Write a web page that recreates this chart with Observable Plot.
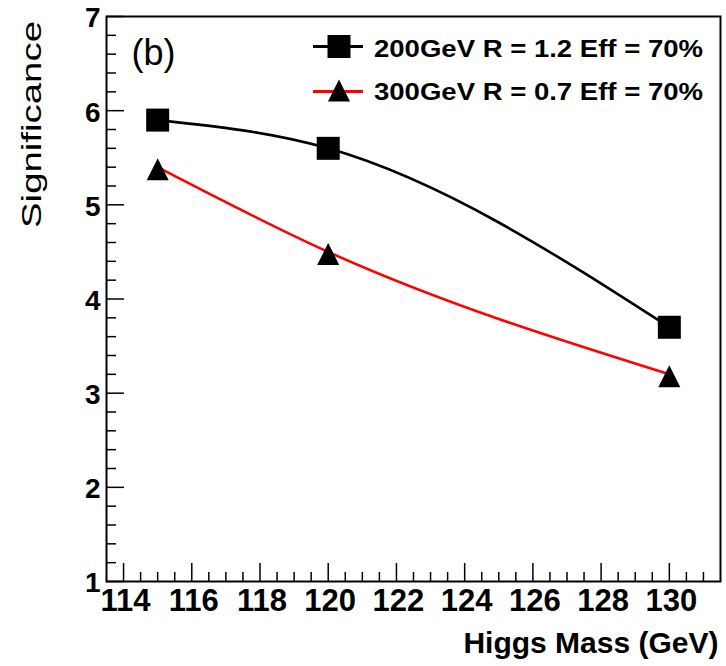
<!DOCTYPE html>
<html>
<head>
<meta charset="utf-8">
<script src="https://cdn.jsdelivr.net/npm/d3@7"></script>
<script src="https://cdn.jsdelivr.net/npm/@observablehq/plot@0.6"></script>
<style>
  html, body { margin: 0; padding: 0; background: #fff; }
  #chart { position: relative; width: 726px; height: 666px; overflow: hidden; }
  #legend { position: absolute; left: 0; top: 0; pointer-events: none; }
</style>
</head>
<body>
<div id="chart"></div>
<script>
// Significance vs Higgs mass for two jet configurations
const massGeV = [115, 120, 130];
const sig200 = [5.9, 5.6, 3.7];
const sig300 = [5.4, 4.5, 3.2];
const seriesNames = ["200GeV R = 1.2 Eff = 70%", "300GeV R = 0.7 Eff = 70%"];
const seriesColors = ["#000000", "#ff0000"];
const xTickLabels = [114, 116, 118, 120, 122, 124, 126, 128, 130];
const yTickLabels = [1, 2, 3, 4, 5, 6, 7];
const xDomain = [113.5, 131.5];
const yDomain = [1, 7];
const panelTag = "(b)";
const xTitle = "Higgs Mass (GeV)";
const yTitle = "Significance";

const W = 726, H = 666;
const M = {top: 16, right: 6, bottom: 85, left: 106};
const frameW = W - M.left - M.right;
const frameH = H - M.top - M.bottom;
const FONT = '"Liberation Sans", Arial, Helvetica, sans-serif';

const rows = seriesNames.flatMap((name, i) =>
  massGeV.map((m, j) => ({series: name, mass: m, sig: [sig200, sig300][i][j]}))
);

// minor ticks: 0.5 GeV on x, 0.2 on y
const xMinor = d3.range(114, 131.5, 0.5).filter(v => v % 2 !== 0);
const yMinor = d3.range(1, 7.0001, 0.2).map(v => +v.toFixed(1)).filter(v => v % 1 !== 0);

// ROOT-style markers: square and isoceles triangle, half-width = r
const squareSym = {draw(ctx, size) {
  const h = Math.sqrt(size / Math.PI);
  ctx.rect(-h, -h, 2 * h, 2 * h);
}};
const triangleSym = {draw(ctx, size) {
  const h = Math.sqrt(size / Math.PI);
  ctx.moveTo(0, -h); ctx.lineTo(h, h); ctx.lineTo(-h, h); ctx.closePath();
}};

const plot = Plot.plot({
  width: W, height: H,
  marginTop: M.top, marginRight: M.right, marginBottom: M.bottom, marginLeft: M.left,
  x: {domain: xDomain, axis: null},
  y: {domain: yDomain, axis: null},
  color: {domain: seriesNames, range: seriesColors},
  style: {fontFamily: FONT, background: "#fff", overflow: "visible"},
  marks: [
    // inward ticks on the bottom and left edges
    Plot.ruleX(xMinor, {x: d => d, insetTop: frameH - 9, stroke: "#000", strokeWidth: 1.5}),
    Plot.ruleX(xTickLabels, {x: d => d, insetTop: frameH - 18, stroke: "#000", strokeWidth: 1.5}),
    Plot.ruleY(yMinor, {y: d => d, insetRight: frameW - 10, stroke: "#000", strokeWidth: 1.5}),
    Plot.ruleY(yTickLabels, {y: d => d, insetRight: frameW - 18, stroke: "#000", strokeWidth: 1.5}),
    Plot.frame({stroke: "#000", strokeWidth: 2}),
    Plot.line(rows, {x: "mass", y: "sig", z: "series", stroke: "series", curve: "monotone-x", strokeWidth: 2.6}),
    Plot.dot(rows.filter(d => d.series === seriesNames[0]), {x: "mass", y: "sig", symbol: squareSym, r: 11.5, fill: "#000", stroke: "none"}),
    Plot.dot(rows.filter(d => d.series === seriesNames[1]), {x: "mass", y: "sig", symbol: triangleSym, r: 11, dy: 2, fill: "#000", stroke: "none"}),
    // tick labels
    Plot.text(xTickLabels, {x: d => d, frameAnchor: "bottom", dx: 2, dy: 29, lineAnchor: "bottom", fontSize: 31, fontWeight: "bold", fill: "#000", className: "xticklabels"}),
    Plot.text(yTickLabels, {y: d => d, frameAnchor: "left", dx: -6, dy: 2, textAnchor: "end", lineAnchor: "middle", fontSize: 28, fontWeight: "bold", fill: "#000"}),
    // titles
    Plot.text([xTitle], {frameAnchor: "bottom-right", dx: -2, dy: 71, textAnchor: "end", lineAnchor: "bottom", fontSize: 30, fontWeight: "bold", fill: "#000"}),
    Plot.text([yTitle], {frameAnchor: "top-left", dx: -74, dy: 108, rotate: -90, textAnchor: "middle", lineAnchor: "middle", fontSize: 28, fill: "#000", className: "ytitle"}),
    Plot.text([panelTag], {frameAnchor: "top-left", dx: 25, dy: 48, textAnchor: "start", lineAnchor: "bottom", fontSize: 36, fill: "#000"})
  ]
});

// the axis title is set wide, as in the ROOT canvas
d3.select(plot).selectAll(".ytitle text")
  .attr("textLength", 207).attr("lengthAdjust", "spacingAndGlyphs");

const chart = document.getElementById("chart");
chart.appendChild(plot);

// legend in the upper right of the frame
const legend = d3.select(chart).append("svg")
  .attr("id", "legend")
  .attr("width", W).attr("height", H)
  .style("font-family", FONT);

const legendRows = [
  {name: seriesNames[0], color: seriesColors[0], sym: squareSym, r: 11.5, y: 46.5, base: 57},
  {name: seriesNames[1], color: seriesColors[1], sym: triangleSym, r: 11, y: 91.5, base: 100}
];
legendRows.forEach(row => {
  const g = legend.append("g");
  g.append("line").attr("x1", 313).attr("x2", 363).attr("y1", row.y).attr("y2", row.y)
    .attr("stroke", row.color).attr("stroke-width", 2.8);
  g.append("path")
    .attr("transform", `translate(339,${row.y + (row.sym === triangleSym ? -1 : 0)})`)
    .attr("d", d3.symbol(row.sym, Math.PI * row.r * row.r)())
    .attr("fill", "#000");
  g.append("text").attr("x", 374).attr("y", row.base)
    .attr("font-size", 24).attr("font-weight", "bold").attr("fill", "#000")
    .attr("textLength", 329).attr("lengthAdjust", "spacingAndGlyphs")
    .text(row.name);
});
</script>
</body>
</html>
